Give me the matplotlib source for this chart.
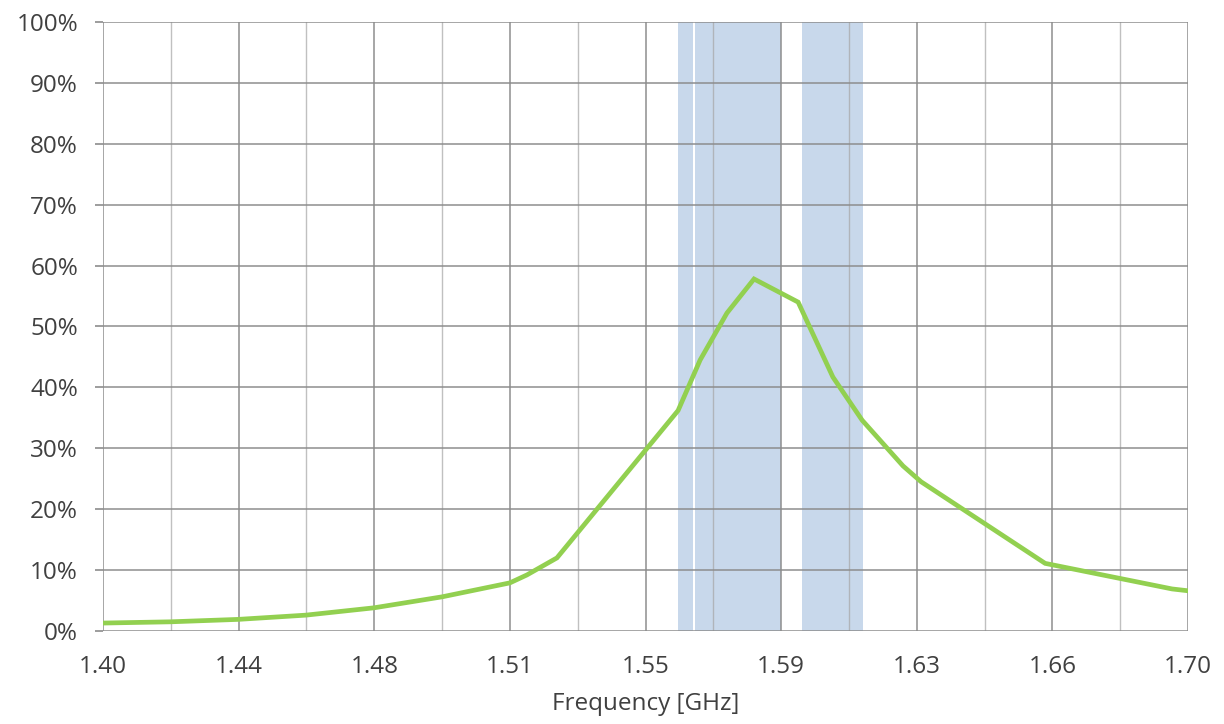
import numpy as np
import matplotlib.pyplot as plt

# efficiency curve
freq = [1.400, 1.4185, 1.4373, 1.4561, 1.4749, 1.4937, 1.5125, 1.5172, 1.5255,
        1.5590, 1.5651, 1.5725, 1.5800, 1.5922, 1.6018, 1.6099, 1.6212, 1.6262,
        1.6605, 1.6956, 1.700]
eff = [1.3, 1.5, 1.9, 2.6, 3.8, 5.6, 7.9, 9.2, 12.0,
       36.2, 44.5, 52.2, 57.8, 54.0, 41.7, 34.6, 27.1, 24.5,
       11.1, 6.9, 6.6]

# shaded frequency bands (GHz)
band_lo = [1.5590, 1.5637, 1.5933]
band_hi = [1.5631, 1.5875, 1.6101]

x_ticks = [1.40, 1.4375, 1.475, 1.5125, 1.55, 1.5875, 1.625, 1.6625, 1.70]
x_labels = ['1.40', '1.44', '1.48', '1.51', '1.55', '1.59', '1.63', '1.66', '1.70']
y_ticks = list(range(0, 101, 10))

plt.rcParams['font.family'] = ['Open Sans', 'DejaVu Sans']

fig = plt.figure(figsize=(12.24, 7.24), dpi=100)
ax = fig.add_axes([0.0842, 0.1285, 0.8864, 0.8411])

for lo, hi in zip(band_lo, band_hi):
    ax.axvspan(lo, hi, color='#C8D8EB', lw=0, zorder=0)

minor = [(a + b) / 2 for a, b in zip(x_ticks[:-1], x_ticks[1:])]
for xv in minor:
    ax.axvline(xv, color='#A6A6A6', lw=1.0, alpha=0.7, zorder=1)
for xv in x_ticks:
    ax.axvline(xv, color='#8C8C8C', lw=1.2, alpha=0.9, zorder=1)
for yv in y_ticks:
    ax.axhline(yv, color='#8C8C8C', lw=1.2, alpha=0.9, zorder=1)

ax.plot(freq, eff, color='#92D050', lw=3.4, zorder=3, solid_joinstyle='miter')

ax.set_xlim(1.40, 1.70)
ax.set_ylim(0, 100)
ax.set_xticks(x_ticks)
ax.set_xticklabels(x_labels)
ax.set_yticks(y_ticks)
ax.set_yticklabels([f'{v}%' for v in y_ticks])

for s in ax.spines.values():
    s.set_visible(False)
ax.tick_params(axis='y', length=6, width=1.2, color='#8C8C8C', labelsize=17.5,
               labelcolor='#404040', pad=12)
ax.tick_params(axis='x', length=0, labelsize=17.5, labelcolor='#404040', pad=17)

ax.set_xlabel('Frequency [GHz]', fontsize=17.5, color='#404040', labelpad=10)

fig.savefig('out.png', dpi=100)
